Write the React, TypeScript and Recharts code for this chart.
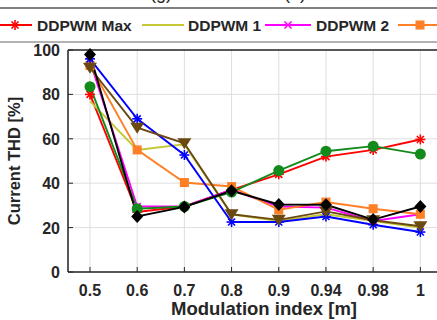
import { LineChart, Line, XAxis, YAxis, CartesianGrid, ReferenceLine, Label } from 'recharts';

const modIndex = ['0.5', '0.6', '0.7', '0.8', '0.9', '0.94', '0.98', '1'];
const yTicks = [0, 20, 40, 60, 80, 100];

const ddpwmMax = [80, 27, 29.5, 37, 44, 52, 55, 59.7];
const ddpwm1 = [77, 55, 57.5, 26, 23, 26, 23, 20];
const ddpwm2 = [95, 29.5, 29.5, 37, 29.5, 29, 23, 26];
const ddpwm3 = [93, 55, 40.3, 38.5, 28, 31.5, 28.5, 26];
const greenSeries = [83.5, 28.5, 29.5, 36, 45.7, 54.4, 56.7, 53.1];
const blueSeries = [96, 69, 52.7, 22.5, 22.5, 25, 21.3, 18];
const brownSeries = [92, 65, 58, 26, 23.5, 27.3, 23.3, 20.6];
const blackSeries = [98, 25, 29.3, 36.6, 30.4, 30.3, 23.6, 29.5];

const data = modIndex.map((m, i) => ({
  idx: i,
  label: m,
  max: ddpwmMax[i],
  d1: ddpwm1[i],
  d2: ddpwm2[i],
  d3: ddpwm3[i],
  green: greenSeries[i],
  blue: blueSeries[i],
  brown: brownSeries[i],
  black: blackSeries[i],
}));

const FONT = '"Liberation Sans", Arial, sans-serif';
const INK = '#262626';

type Shape = 'asterisk' | 'x' | 'square' | 'circle' | 'diamond' | 'triangle' | 'none';

const Marker = ({ cx, cy, shape, color }: { cx: number; cy: number; shape: Shape; color: string }) => {
  if (shape === 'asterisk') {
    const r = 5;
    return (
      <g stroke={color} strokeWidth={1.6}>
        <line x1={cx - r} y1={cy} x2={cx + r} y2={cy} />
        <line x1={cx} y1={cy - r} x2={cx} y2={cy + r} />
        <line x1={cx - r * 0.7} y1={cy - r * 0.7} x2={cx + r * 0.7} y2={cy + r * 0.7} />
        <line x1={cx - r * 0.7} y1={cy + r * 0.7} x2={cx + r * 0.7} y2={cy - r * 0.7} />
      </g>
    );
  }
  if (shape === 'x') {
    const r = 3.5;
    return (
      <g stroke={color} strokeWidth={1.6}>
        <line x1={cx - r} y1={cy - r} x2={cx + r} y2={cy + r} />
        <line x1={cx - r} y1={cy + r} x2={cx + r} y2={cy - r} />
      </g>
    );
  }
  if (shape === 'square') return <rect x={cx - 4.5} y={cy - 4.5} width={9} height={9} fill={color} />;
  if (shape === 'circle') return <circle cx={cx} cy={cy} r={5.5} fill={color} />;
  if (shape === 'diamond')
    return <polygon points={`${cx},${cy - 6.5} ${cx + 6} ${cy} ${cx},${cy + 6.5} ${cx - 6},${cy}`} fill={color} />;
  if (shape === 'triangle')
    return <polygon points={`${cx - 7},${cy - 5} ${cx + 7},${cy - 5} ${cx},${cy + 6}`} fill={color} />;
  return null;
};

const dotFor = (shape: Shape, color: string) => (props: any) => (
  <g key={`${shape}-${props.index}`}>
    <Marker cx={props.cx} cy={props.cy} shape={shape} color={color} />
  </g>
);

const series: { key: string; color: string; shape: Shape }[] = [
  { key: 'max', color: '#ff0000', shape: 'asterisk' },
  { key: 'd1', color: '#c3c834', shape: 'none' },
  { key: 'd2', color: '#ff00ff', shape: 'x' },
  { key: 'd3', color: '#ff7f27', shape: 'square' },
  { key: 'green', color: '#128a1c', shape: 'circle' },
  { key: 'blue', color: '#0000ff', shape: 'asterisk' },
  { key: 'brown', color: '#6b4a12', shape: 'triangle' },
  { key: 'black', color: '#000000', shape: 'diamond' },
];

// last entry runs off the right edge, only its line and marker show
const legendItems = [
  { name: 'DDPWM Max', color: '#ff0000', shape: 'asterisk' as Shape, x1: -2, x2: 32, text: 37 },
  { name: 'DDPWM 1', color: '#c3c834', shape: 'none' as Shape, x1: 142, x2: 184, text: 188 },
  { name: 'DDPWM 2', color: '#ff00ff', shape: 'x' as Shape, x1: 265, x2: 311, text: 316 },
  { name: '', color: '#ff7f27', shape: 'square' as Shape, x1: 398, x2: 442, text: 447 },
];

const YTick = ({ x, y, payload }: any) => (
  <g>
    <line x1={x + 8} y1={y} x2={x + 13} y2={y} stroke={INK} />
    <text x={x} y={y} dy={6} textAnchor="end" fontFamily={FONT} fontWeight="bold" fontSize={16} fill={INK}>
      {payload.value}
    </text>
  </g>
);

const XTick = ({ x, y, payload }: any) => (
  <g>
    <line x1={x} y1={y - 10} x2={x} y2={y - 15} stroke={INK} />
    <text x={x} y={y} dy={14} textAnchor="middle" fontFamily={FONT} fontWeight="bold" fontSize={16} fill={INK}>
      {modIndex[payload.value]}
    </text>
  </g>
);

const TopTick = ({ x, y }: any) => <line x1={x} y1={y} x2={x} y2={y + 5} stroke={INK} />;

export default function App() {
  return (
    <div style={{ position: 'absolute', left: 0, top: 0, width: 437, height: 320, overflow: 'hidden', background: '#fff' }}>
      <svg width={437} height={46} style={{ position: 'absolute', left: 0, top: 0 }}>
        <text x={150} y={-1} fontFamily={FONT} fontSize={18} fill={INK}>(g)</text>
        <text x={284} y={-1} fontFamily={FONT} fontSize={18} fill={INK}>(h)</text>
        <line x1={0} y1={8} x2={437} y2={8} stroke="#808080" strokeWidth={2} />
        <line x1={0} y1={42} x2={437} y2={42} stroke="#9a9a9a" strokeWidth={1.5} />
        {legendItems.map((it, i) => (
          <g key={i}>
            <line x1={it.x1} y1={25} x2={it.x2} y2={25} stroke={it.color} strokeWidth={1.8} />
            <Marker cx={(it.x1 + it.x2) / 2} cy={25} shape={it.shape} color={it.color} />
            {it.name && (
              <text x={it.text} y={31} fontFamily={FONT} fontWeight="bold" fontSize={15.5} fill={INK}>
                {it.name}
              </text>
            )}
          </g>
        ))}
      </svg>
      <div style={{ position: 'absolute', left: 0, top: 0 }}>
        <LineChart width={460} height={320} data={data} margin={{ top: 50, right: 0, bottom: 0, left: 0 }}>
          <CartesianGrid stroke="#dedede" strokeWidth={1} />
          <XAxis
            dataKey="idx"
            type="number"
            domain={[-0.466, 7.84]}
            ticks={[0, 1, 2, 3, 4, 5, 6, 7]}
            height={48}
            tickSize={0}
            tickMargin={10}
            tick={<XTick />}
            axisLine={{ stroke: INK, strokeWidth: 1.5 }}
            allowDataOverflow
          >
            <Label
              value="Modulation index [m]"
              position="insideBottom"
              offset={5}
              style={{ fontFamily: FONT, fontWeight: 'bold', fontSize: 18.5, fill: INK }}
            />
          </XAxis>
          <XAxis
            xAxisId="top"
            dataKey="idx"
            type="number"
            orientation="top"
            domain={[-0.466, 7.84]}
            ticks={[0, 1, 2, 3, 4, 5, 6, 7]}
            height={0}
            tickSize={0}
            tickMargin={0}
            tick={<TopTick />}
            axisLine={{ stroke: INK, strokeWidth: 1.5 }}
            allowDataOverflow
          />
          <YAxis
            domain={[0, 100]}
            ticks={yTicks}
            width={68}
            tickSize={0}
            tickMargin={8}
            tick={<YTick />}
            axisLine={{ stroke: INK, strokeWidth: 1.5 }}
            interval={0}
          >
            <Label
              value="Current THD [%]"
              angle={-90}
              position="insideLeft"
              offset={14}
              style={{ fontFamily: FONT, fontWeight: 'bold', fontSize: 16.5, fill: INK, textAnchor: 'middle' }}
            />
          </YAxis>
          <ReferenceLine y={100} stroke={INK} strokeWidth={1.5} />
          {series.map((s) => (
            <Line
              key={s.key}
              dataKey={s.key}
              type="linear"
              stroke={s.color}
              strokeWidth={1.9}
              dot={dotFor(s.shape, s.color)}
              activeDot={false}
              isAnimationActive={false}
            />
          ))}
        </LineChart>
      </div>
    </div>
  );
}
